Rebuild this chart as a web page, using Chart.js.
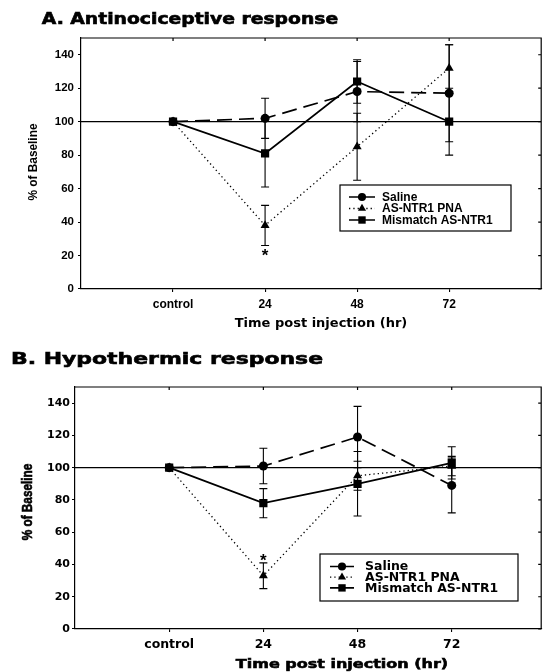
<!DOCTYPE html>
<html>
<head>
<meta charset="utf-8">
<script src="https://cdn.jsdelivr.net/npm/chart.js@4.4.1/dist/chart.umd.min.js"></script>
<style>
  body { margin: 0; background: #fff; }
  #page { position: relative; width: 547px; height: 672px; overflow: hidden; }
  .box { position: absolute; left: 0; width: 547px; }
  .lbl { position: absolute; white-space: nowrap; font-weight: bold; line-height: 1; color: #000; }
  .heavy { -webkit-text-stroke: 0.6px #000; }
</style>
</head>
<body>
<div id="page">
  <div class="box" style="top:0;height:330px"><canvas id="chartA"></canvas></div>
  <div class="box" style="top:330px;height:342px"><canvas id="chartB"></canvas></div>

  <div class="lbl heavy" style="left:190px;top:18.7px;font-family:'DejaVu Sans';font-size:15px;transform:translate(-50%,-50%) scaleX(1.25)">A. Antinociceptive response</div>
  <div class="lbl" style="left:31.7px;top:161.5px;font-family:'Liberation Sans';font-size:13px;transform:translate(-50%,-50%) rotate(-90deg) scaleX(0.91)">% of Baseline</div>
  <div class="lbl" style="left:321px;top:322px;font-family:'DejaVu Sans';font-size:13px;transform:translate(-50%,-50%)">Time post injection (hr)</div>

  <div class="lbl heavy" style="left:166.6px;top:359px;font-family:'DejaVu Sans';font-size:16.5px;transform:translate(-50%,-50%) scaleX(1.33)">B. Hypothermic response</div>
  <div class="lbl heavy" style="left:27.3px;top:502px;font-family:'Liberation Sans';font-size:14px;transform:translate(-50%,-50%) rotate(-90deg) scaleX(0.84)">% of Baseline</div>
  <div class="lbl heavy" style="left:342px;top:662.5px;font-family:'DejaVu Sans';font-size:13px;transform:translate(-50%,-50%) scaleX(1.23)">Time post injection (hr)</div>
</div>
<script>
// shared axes
const categories = ['control', '24', '48', '72'];
const yTicks = [0, 20, 40, 60, 80, 100, 120, 140];
const baseline = 100;
const seriesNames = ['Saline', 'AS-NTR1 PNA', 'Mismatch AS-NTR1'];
const sigIndex = 1; // * at 24 hr for AS-NTR1 PNA

// A. Antinociceptive response (% of baseline, mean and error)
const salineA = [100, 102, 118, 117];
const salineErrA = [0, 12, 18, 29];
const pnaA = [100, 38, 85, 132];
const pnaErrA = [0, 12, 20, 14];
const mismatchA = [100, 81, 124, 100];
const mismatchErrA = [0, 20, 13, 20];

// B. Hypothermic response
const salineB = [100, 101, 119, 89];
const salineErrB = [0, 11, 19, 17];
const pnaB = [100, 33, 95, 101];
const pnaErrB = [0, 8, 9, 6];
const mismatchB = [100, 78, 90, 103];
const mismatchErrB = [0, 9, 20, 10];

const styles = [
    { pointStyle: 'circle', radius: 4.5, dash: [15, 7], width: 1.7 },
    { pointStyle: 'triangle', radius: 5.2, dash: [1.3, 3], width: 1.3 },
    { pointStyle: 'rect', radius: 5.8, dash: [], width: 1.7 }
];

function series(i, values, err) {
    const s = styles[i];
    return {
        label: seriesNames[i],
        data: values.map((v, k) => ({ x: k, y: v })),
        err: err,
        borderColor: '#000',
        backgroundColor: '#000',
        borderWidth: s.width,
        borderDash: s.dash,
        pointStyle: s.pointStyle,
        pointRadius: s.radius,
        pointBorderWidth: 0,
        tension: 0
    };
}

function marker(ctx, style, r, x, y) {
    ctx.beginPath();
    if (style === 'circle') {
        ctx.arc(x, y, r, 0, Math.PI * 2);
    } else if (style === 'rect') {
        const h = r * Math.SQRT1_2;
        ctx.rect(x - h, y - h, 2 * h, 2 * h);
    } else {
        ctx.moveTo(x, y - r);
        ctx.lineTo(x + r * 0.866, y + r * 0.5);
        ctx.lineTo(x - r * 0.866, y + r * 0.5);
        ctx.closePath();
    }
    ctx.fill();
}

function makeChart(id, cfg) {
    const errorBars = {
        id: 'errorBars',
        afterDatasetsDraw(chart) {
            const { ctx, scales: { x, y } } = chart;
            ctx.save();
            ctx.strokeStyle = '#000';
            ctx.lineWidth = 1.1;
            chart.data.datasets.forEach(ds => {
                if (!ds.err) return;
                ds.data.forEach((p, k) => {
                    const e = ds.err[k];
                    if (!e) return;
                    const px = x.getPixelForValue(p.x);
                    const t = y.getPixelForValue(p.y + e);
                    const b = y.getPixelForValue(p.y - e);
                    ctx.beginPath();
                    ctx.moveTo(px, t); ctx.lineTo(px, b);
                    ctx.moveTo(px - 4, t); ctx.lineTo(px + 4, t);
                    ctx.moveTo(px - 4, b); ctx.lineTo(px + 4, b);
                    ctx.stroke();
                });
            });
            // significance star on the PNA error bar
            const ds = chart.data.datasets[2];
            const p = ds.data[sigIndex];
            const e = ds.err[sigIndex];
            const px = x.getPixelForValue(p.x);
            ctx.fillStyle = '#000';
            ctx.font = 'bold 17px "Liberation Sans", Arial';
            ctx.textAlign = 'center';
            ctx.textBaseline = 'alphabetic';
            const cy = cfg.starBelow ? y.getPixelForValue(p.y - e) + 6 : y.getPixelForValue(p.y + e) - 7;
            ctx.fillText('*', px, cy + 10);
            ctx.restore();
        }
    };

    const frame = {
        id: 'frame',
        afterDraw(chart) {
            const { ctx, chartArea: a, scales: { x, y } } = chart;
            ctx.save();
            ctx.strokeStyle = '#000';
            ctx.lineWidth = 1.2;
            ctx.beginPath();
            ctx.moveTo(a.left, a.top); ctx.lineTo(a.right, a.top); ctx.lineTo(a.right, a.bottom);
            categories.forEach((c, k) => {
                const px = x.getPixelForValue(k);
                ctx.moveTo(px, a.top); ctx.lineTo(px, a.top + 3);
            });
            yTicks.forEach(v => {
                const py = y.getPixelForValue(v);
                ctx.moveTo(a.right, py); ctx.lineTo(a.right - 3, py);
            });
            ctx.stroke();

            // legend box
            const L = cfg.legend;
            ctx.lineWidth = 1.2;
            ctx.strokeRect(L.x, L.y, L.w, L.h);
            ctx.fillStyle = '#000';
            ctx.font = 'bold ' + L.size + 'px ' + L.family;
            ctx.textBaseline = 'middle';
            ctx.textAlign = 'left';
            seriesNames.forEach((name, i) => {
                const s = styles[i];
                const ry = L.y + L.first + i * L.gap;
                ctx.lineWidth = s.width;
                ctx.setLineDash(s.dash);
                ctx.beginPath();
                ctx.moveTo(L.lineX0, ry); ctx.lineTo(L.markX, ry);
                ctx.moveTo(L.markX, ry); ctx.lineTo(L.lineX1, ry);
                ctx.stroke();
                ctx.setLineDash([]);
                marker(ctx, s.pointStyle, s.radius * 0.9, L.markX, ry);
                ctx.save();
                ctx.translate(L.textX, ry + 0.5);
                ctx.scale(L.scale, 1);
                ctx.fillText(name, 0, 0);
                ctx.restore();
            });
            ctx.restore();
        }
    };

    return new Chart(document.getElementById(id), {
        type: 'line',
        data: {
            datasets: [
                {
                    data: [{ x: cfg.xMin, y: baseline }, { x: cfg.xMax, y: baseline }],
                    borderColor: '#000', borderWidth: 1.3, pointRadius: 0
                },
                series(0, cfg.saline, cfg.salineErr),
                series(1, cfg.pna, cfg.pnaErr),
                series(2, cfg.mismatch, cfg.mismatchErr)
            ]
        },
        plugins: [errorBars, frame],
        options: {
            responsive: true,
            maintainAspectRatio: false,
            animation: false,
            layout: { padding: { top: cfg.top, right: cfg.right, left: 0, bottom: 0 } },
            plugins: { legend: { display: false }, tooltip: { enabled: false } },
            scales: {
                x: {
                    type: 'linear', min: cfg.xMin, max: cfg.xMax,
                    afterBuildTicks: s => { s.ticks = categories.map((c, k) => ({ value: k })); },
                    afterFit: s => { s.height = cfg.xHeight; },
                    ticks: {
                        callback: v => categories[v], color: '#000', padding: 5,
                        maxRotation: 0, autoSkip: false,
                        font: { family: cfg.tickFamily, size: cfg.xTickSize, weight: 'bold' }
                    },
                    grid: { drawOnChartArea: false, tickLength: 3, color: '#000', lineWidth: 1.1 },
                    border: { color: '#000', width: 1.2 }
                },
                y: {
                    min: 0, max: 150,
                    afterBuildTicks: s => { s.ticks = yTicks.map(v => ({ value: v })); },
                    afterFit: s => { s.width = cfg.yWidth; },
                    ticks: {
                        color: '#000', padding: cfg.yPad,
                        font: { family: cfg.tickFamily, size: cfg.yTickSize, weight: 'bold' }
                    },
                    grid: { drawOnChartArea: false, tickLength: 3, color: '#000', lineWidth: 1.1 },
                    border: { color: '#000', width: 1.2 }
                }
            }
        }
    });
}

makeChart('chartA', {
    saline: salineA, salineErr: salineErrA,
    pna: pnaA, pnaErr: pnaErrA,
    mismatch: mismatchA, mismatchErr: mismatchErrA,
    xMin: -1, xMax: 4, top: 38, right: 1, xHeight: 41, yWidth: 81, yPad: 4,
    tickFamily: '"Liberation Sans", Arial', xTickSize: 12, yTickSize: 11.5,
    starBelow: true,
    legend: { x: 340, y: 185, w: 171, h: 46, first: 12, gap: 11.5, lineX0: 349, lineX1: 375, markX: 362,
              textX: 382, size: 12, family: '"Liberation Sans", Arial', scale: 1 }
});

makeChart('chartB', {
    saline: salineB, salineErr: salineErrB,
    pna: pnaB, pnaErr: pnaErrB,
    mismatch: mismatchB, mismatchErr: mismatchErrB,
    xMin: -1, xMax: 3.95, top: 57, right: 1, xHeight: 43, yWidth: 75, yPad: 2,
    tickFamily: '"DejaVu Sans"', xTickSize: 12.5, yTickSize: 11,
    starBelow: false,
    legend: { x: 320, y: 224, w: 198, h: 47, first: 12.5, gap: 10.7, lineX0: 330, lineX1: 354, markX: 342,
              textX: 365, size: 12, family: '"DejaVu Sans"', scale: 1.04 }
});
</script>
</body>
</html>
